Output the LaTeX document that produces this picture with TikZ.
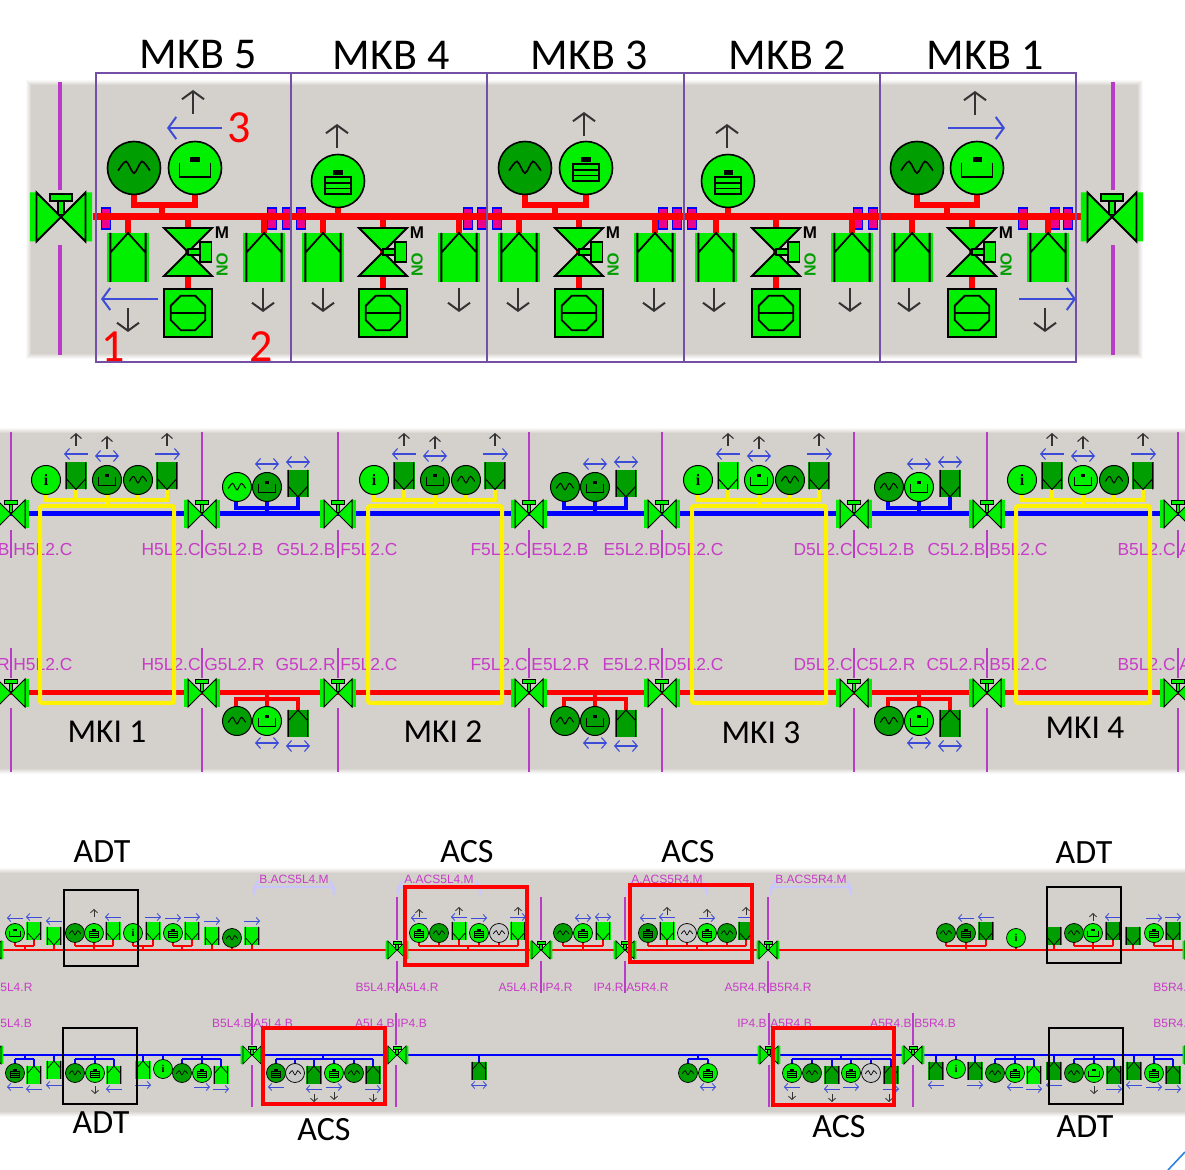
\documentclass[tikz,border=0pt]{standalone}
\usepackage{fontspec}
\setmainfont{Carlito}
\newfontfamily\tagfont{Liberation Sans}
\newfontfamily\infofont{Liberation Serif}
\usetikzlibrary{arrows.meta}

\definecolor{panel}{HTML}{D4D0CB}
\definecolor{lgreen}{HTML}{00F000}
\definecolor{dgreen}{HTML}{009E00}
\definecolor{sgrey}{HTML}{C8C8C8}
\definecolor{tagmag}{HTML}{C83CC8}
\definecolor{linemag}{HTML}{B83CC8}
\definecolor{arrblue}{HTML}{3C4CD8}
\definecolor{boxpurple}{HTML}{7350A5}
\definecolor{brack}{HTML}{C8C8FF}

\tikzset{
    sinec/.pic={
        \draw[fill=#1] (0,0) circle (1);
        \draw plot[smooth] coordinates {(-.6,.1) (-.3,-.25) (0,.2) (.3,-.25) (.6,.1)};
    },
    tankc/.pic={
        \draw[fill=#1] (0,0) circle (1);
        \draw (-.58,-.2) -- (-.58,.35) -- (.58,.35) -- (.58,-.2);
        \fill (-.17,-.4) rectangle (.17,-.22);
    },
    stackc/.pic={
        \draw[fill=#1] (0,0) circle (1);
        \draw (-.5,-.15) rectangle (.5,.5) (-.5,.07) -- (.5,.07) (-.5,.28) -- (.5,.28);
        \fill (-.17,-.4) rectangle (.17,-.22);
    },
    infoc/.pic={
        \draw[fill=lgreen] (0,0) circle (1);
        \node (-i) [transform shape, scale=.055, font=\infofont\bfseries] at (0,0) {i};
    },
    fan/.pic={
        \fill[#1] (-.85,-1) rectangle (.85,1);
        \draw (-.72,1) -- (-.72,-1) (.72,1) -- (.72,-1) (-.72,-.2) -- (0,-1) -- (.72,-.2);
    },
    isovalve/.pic={
        \fill[lgreen] (-1.27,-1) rectangle (-.98,1) (.98,-1) rectangle (1.27,1);
        \draw[fill=lgreen] (-1,-1) -- (0,0) -- (-1,1) -- cycle;
        \draw[fill=lgreen] (1,-1) -- (0,0) -- (1,1) -- cycle;
        \draw[fill=lgreen] (-.13,-.65) rectangle (.13,-.1);
        \draw[fill=lgreen] (-.45,-.95) rectangle (.45,-.65);
    },
    motvalve/.pic={
        \draw[fill=lgreen] (-1,-1) -- (1,-1) -- (-1,1) -- (1,1) -- cycle;
        \draw[fill=lgreen] (0,-.13) rectangle (.5,.13);
        \draw[fill=lgreen] (.5,-.42) rectangle (.98,.42);
    },
    sqpump/.pic={
        \draw[fill=lgreen] (-1,-1) rectangle (1,1);
        \draw (-.3,-.72) -- (.3,-.72) -- (.72,-.3) -- (.72,.3) -- (.3,.72) -- (-.3,.72) -- (-.72,.3) -- (-.72,-.3) -- cycle;
        \draw (-.72,0) -- (.72,0);
    },
    tierl/.style={line width=1pt, >={Straight Barb[length=4pt,width=11pt]}},
    tierm/.style={line width=.55pt, >={Straight Barb[length=2.4pt,width=5.5pt]}},
    tiers/.style={line width=.42pt, >={Straight Barb[length=1.6pt,width=3.5pt]}},
    blk/.style={draw=black!80},
    blu/.style={draw=arrblue},
    symbl/.style={scale=26.5, line width=.8pt},
    symbm/.style={scale=14.5, line width=.5pt},
    symbs/.style={scale=9.5, line width=.35pt},
    title/.style={font=\fontsize{22}{24}\selectfont},
    mkilabel/.style={font=\fontsize{16.7}{20}\selectfont},
    adtlabel/.style={font=\fontsize{17}{20}\selectfont},
    rednum/.style={font=\fontsize{23}{24}\selectfont, text=red},
    tagm/.style={font=\tagfont\fontsize{8.7}{10}\selectfont, text=tagmag, inner sep=0pt},
    tags/.style={font=\tagfont\fontsize{6}{7}\selectfont, text=tagmag, inner sep=0pt},
}

\newcommand{\softpanel}[4]{%
    \foreach \d/\m in {5/12,4/28,3/45,2/62,1/80} {
        \fill[panel!\m!white] (#1-\d,#2-\d) rectangle (#3+\d,#4+\d);
    }
    \fill[panel] (#1,#2) rectangle (#3,#4);}

\begin{document}
\begin{tikzpicture}[x=.5pt,y=-.5pt]
    \useasboundingbox (0,0) rectangle (1185,1170);

    % MKB row
    \softpanel{31}{85}{1138}{354}
    \foreach \px in {60,1113} {
        \draw[linemag,line width=1.6pt] (\px,82) -- (\px,190) (\px,245) -- (\px,355);
    }
    \foreach \px in {106,272,287,301,468,482,497,663,677,692,858,873,1023,1055,1068} {
        \draw[blue,fill=magenta,line width=.6pt] (\px-4.5,208) rectangle (\px+4.5,229);
    }
    \draw[red,line width=3.5pt] (93,217) -- (1082,217);
    \foreach \ux in {96,291,487,684,880} {
        \draw[red,line width=3.2pt] (\ux+32,217) -- (\ux+32,233) (\ux+168,217) -- (\ux+168,233) (\ux+92,217) -- (\ux+92,290);
        \pic[scale=24.5,line width=.9pt] at (\ux+32,257.5) {fan=lgreen};
        \pic[scale=24.5,line width=.9pt] at (\ux+168,257.5) {fan=lgreen};
        \pic[scale=24,line width=.9pt] at (\ux+92,252) {motvalve};
        \pic[scale=24,line width=.9pt] at (\ux+92,313) {sqpump};
        \node (m\ux) at (\ux+126,233) {\tagfont\bfseries\fontsize{8.5}{9}\selectfont M};
        \node (no\ux) [rotate=90,text=dgreen] at (\ux+126,265) {\tagfont\bfseries\fontsize{8}{9}\selectfont NO};
    }
    \pic[scale=24.5,line width=.9pt] at (61,217) {isovalve};
    \pic[scale=24.5,line width=.9pt] at (1112,217) {isovalve};

    \draw[red,line width=3pt] (134,195) -- (134,205) -- (195,205) -- (195,195) (162,205) -- (162,217);
    \draw[red,line width=3pt] (525,195) -- (525,205) -- (586,205) -- (586,195) (555,205) -- (555,217);
    \draw[red,line width=3pt] (917,195) -- (917,205) -- (977,205) -- (977,195) (947,205) -- (947,217);
    \draw[red,line width=3pt] (338,205) -- (338,217) (728,205) -- (728,217);
    \pic[symbl] at (134,168) {sinec=dgreen};
    \pic[symbl] at (195,168) {tankc=lgreen};
    \pic[symbl] at (338,181) {stackc=lgreen};
    \pic[symbl] at (525,168) {sinec=dgreen};
    \pic[symbl] at (586,168) {stackc=lgreen};
    \pic[symbl] at (728,181) {stackc=lgreen};
    \pic[symbl] at (917,168) {sinec=dgreen};
    \pic[symbl] at (977,168) {tankc=lgreen};

    \foreach \px/\py in {193/90,337/124,584/112,727/124,975/91} {
        \draw[tierl,blk,->] (\px,\py+24) -- (\px,\py);
    }
    \foreach \px/\py in {128/308,263/288,323/288,459/288,518/288,654/288,714/288,850/288,909/288,1045/308} {
        \draw[tierl,blk,->] (\px,\py) -- (\px,\py+24);
    }
    \draw[tierl,blu,->] (222,128) -- (167,128);
    \draw[tierl,blu,->] (948,128) -- (1005,128);
    \draw[tierl,blu,->] (158,299) -- (101,299);
    \draw[tierl,blu,->] (1019,299) -- (1076,299);

    \foreach \ux/\vx in {96/291,291/487,487/684,684/880,880/1076} {
        \draw[boxpurple,line width=.9pt] (\ux,73) rectangle (\vx,362);
    }
    \foreach \px/\num in {198/5,391/4,589/3,787/2,985/1} {
        \node[title] (mkb\num) at (\px,55) {MKB \num};
    }
    \node[rednum] (one) at (113,347) {1};
    \node[rednum] (two) at (261,347) {2};
    \node[rednum] (three) at (239,128) {3};

    % MKI row
    \softpanel{-6}{433}{1191}{769}
    \foreach \px in {11,202,338,529,662,854,987,1178} {
        \draw[linemag,line width=1pt] (\px,432) -- (\px,500) (\px,530) -- (\px,558) (\px,648) -- (\px,678) (\px,708) -- (\px,772);
    }
    \foreach \px/\txt [count=\i] in {10/B,201/H5L2.C,336/G5L2.B,528/F5L2.C,661/E5L2.B,853/D5L2.C,986/C5L2.B,1176/B5L2.C} {
        \node[tagm,anchor=east] (ub\i) at (\px,550) {\txt};
    }
    \foreach \px/\txt [count=\i] in {13/H5L2.C,204/G5L2.B,340/F5L2.C,531/E5L2.B,664/D5L2.C,856/C5L2.B,989/B5L2.C,1179/A} {
        \node[tagm,anchor=west] (ua\i) at (\px,550) {\txt};
    }
    \foreach \px/\txt [count=\i] in {10/R,201/H5L2.C,336/G5L2.R,528/F5L2.C,661/E5L2.R,853/D5L2.C,986/C5L2.R,1176/B5L2.C} {
        \node[tagm,anchor=east] (lb\i) at (\px,665) {\txt};
    }
    \foreach \px/\txt [count=\i] in {13/H5L2.C,204/G5L2.R,340/F5L2.C,531/E5L2.R,664/D5L2.C,856/C5L2.R,989/B5L2.C,1179/A} {
        \node[tagm,anchor=west] (la\i) at (\px,665) {\txt};
    }
    \draw[blue,line width=2.5pt] (0,514) -- (1185,514);
    \draw[red,line width=2.5pt] (0,693) -- (1185,693);

    \foreach \ox/\fa/\tk in {0/dgreen/dgreen,328/dgreen/dgreen,652/lgreen/lgreen,976/dgreen/lgreen} {
        \draw[yellow,line width=2pt,rounded corners=1pt] (\ox+40,506) rectangle (\ox+174,703);
        \draw[yellow,line width=2pt] (\ox+46,490) -- (\ox+46,500) -- (\ox+167,500) -- (\ox+167,490)
            (\ox+76,490) -- (\ox+76,500) (\ox+107,490) -- (\ox+107,506) (\ox+138,490) -- (\ox+138,500);
        \pic[symbm] at (\ox+46,480) {infoc};
        \pic[scale=13.5,line width=.5pt,yscale=-1] at (\ox+76,476) {fan=\fa};
        \pic[symbm] at (\ox+107,480) {tankc=\tk};
        \pic[symbm] at (\ox+138,480) {sinec=dgreen};
        \pic[scale=13.5,line width=.5pt,yscale=-1] at (\ox+167,476) {fan=dgreen};
        \foreach \px/\py in {76/433,107/436,167/433} {
            \draw[tierm,blk,->] (\ox+\px,\py+13) -- (\ox+\px,\py);
        }
        \draw[tierm,blu,->] (\ox+88,454) -- (\ox+64,454);
        \draw[tierm,blu,<->] (\ox+95,456) -- (\ox+119,456);
        \draw[tierm,blu,->] (\ox+155,454) -- (\ox+180,454);
    }
    \foreach \ox/\sa/\tk in {0/lgreen/dgreen,328/dgreen/dgreen,652/dgreen/lgreen} {
        \draw[blue,line width=2pt] (\ox+236,495) -- (\ox+236,508) -- (\ox+298,508) -- (\ox+298,495) (\ox+267,495) -- (\ox+267,514);
        \pic[symbm] at (\ox+237,487) {sinec=\sa};
        \pic[symbm] at (\ox+267,487) {tankc=\tk};
        \pic[scale=13.5,line width=.5pt,yscale=-1] at (\ox+298,483.5) {fan=dgreen};
        \draw[tierm,blu,<->] (\ox+255,464) -- (\ox+279,464);
        \draw[tierm,blu,<->] (\ox+286,462) -- (\ox+310,462);
    }
    \foreach \ox/\tk in {0/lgreen,328/dgreen,652/lgreen} {
        \draw[red,line width=2pt] (\ox+236,712) -- (\ox+236,699) -- (\ox+298,699) -- (\ox+298,712) (\ox+267,712) -- (\ox+267,693);
        \pic[symbm] at (\ox+237,721) {sinec=dgreen};
        \pic[symbm] at (\ox+267,721) {tankc=\tk};
        \pic[scale=13.5,line width=.5pt] at (\ox+298,723.5) {fan=dgreen};
        \draw[tierm,blu,<->] (\ox+255,743) -- (\ox+279,743);
        \draw[tierm,blu,<->] (\ox+286,746) -- (\ox+310,746);
    }
    \foreach \px in {11,202,338,529,662,854,987,1178} {
        \pic[scale=14,line width=.5pt] at (\px,514) {isovalve};
        \pic[scale=14,line width=.5pt] at (\px,693) {isovalve};
    }
    \foreach \px/\py/\num in {107/732/1,443/732/2,761/733/3,1085/728/4} {
        \node[mkilabel] (mki\num) at (\px,\py) {MKI \num};
    }

    % ADT / ACS row
    \softpanel{-6}{873}{1191}{1112}
    \foreach \px in {397,541,625,768} {
        \draw[linemag,line width=.7pt] (\px,897) -- (\px,940) (\px,961) -- (\px,993);
    }
    \foreach \px in {252,396,769,913} {
        \draw[linemag,line width=.7pt] (\px,1013) -- (\px,1045) (\px,1065) -- (\px,1107);
    }
    \foreach \px/\txt [count=\i] in {396/B5L4.R,539/A5L4.R,624/IP4.R,767/A5R4.R} {
        \node[tags,anchor=east] (rb\i) at (\px,987) {\txt};
    }
    \foreach \px/\txt [count=\i] in {0/5L4.R,398/A5L4.R,542/IP4.R,626/A5R4.R,769/B5R4.R,1153/B5R4.} {
        \node[tags,anchor=west] (ra\i) at (\px,987) {\txt};
    }
    \foreach \px/\txt [count=\i] in {252/B5L4.B,395/A5L4.B,767/IP4.B,912/A5R4.B} {
        \node[tags,anchor=east] (bb\i) at (\px,1023) {\txt};
    }
    \foreach \px/\txt [count=\i] in {0/5L4.B,253/A5L4.B,397/IP4.B,770/A5R4.B,914/B5R4.B,1153/B5R4.} {
        \node[tags,anchor=west] (ba\i) at (\px,1023) {\txt};
    }
    \foreach \xa/\xb/\txt [count=\i] in {253/335/B.ACS5L4.M,397/481/A.ACS5L4.M,626/708/A.ACS5R4.M,770/852/B.ACS5R4.M} {
        \draw[brack,line width=1.2pt] (\xa+1,895) -- (\xa+1,889) -- (\xa+5,887) -- (\xb-5,887) -- (\xb-1,889) -- (\xb-1,895) (\xa+1,889) -- (\xa+5,881) (\xb-1,889) -- (\xb-5,881);
        \node[tags] (acs\i) at ({(\xa+\xb)/2},879) {\txt};
    }

    \draw[red,line width=1.3pt] (0,950) -- (1185,950);
    \draw[blue,line width=1.3pt] (0,1055) -- (1185,1055);

    \foreach \xa/\xb/\xc in {15/34/25,75/113/94,133/153/143,173/192/182,419/518/468,563/603/583,648/746/697,946/986/966,1074/1113/1093,1154/1173/1173} {
        \draw[red,line width=.9pt] (\xa,946) -- (\xb,946) (\xc,946) -- (\xc,950);
    }
    \foreach \px in {15,34,75,94,113,133,153,173,192,419,439,459,479,499,518,563,583,603,648,667,687,707,727,746,946,966,986,1074,1093,1113,1154,1173} {
        \draw[red,line width=.9pt] (\px,930) -- (\px,946);
    }
    \foreach \px in {54,212,232,252,1016,1054,1133} {
        \draw[red,line width=.9pt] (\px,930) -- (\px,950);
    }
    \foreach \xa/\xb/\xc in {15/34/25,75/114/95,182/221/202,276/373/323,688/708/698,792/891/841,995/1034/1015,1074/1114/1094,1154/1173/1154} {
        \draw[blue,line width=.9pt] (\xa,1059) -- (\xb,1059) (\xc,1055) -- (\xc,1059);
    }
    \foreach \px in {15,34,75,95,114,182,202,221,276,295,314,334,354,373,688,708,792,812,832,851,871,891,995,1015,1034,1074,1094,1114,1154,1173} {
        \draw[blue,line width=.9pt] (\px,1059) -- (\px,1075);
    }
    \foreach \px in {54,143,163,479,936,956,975,1054,1134} {
        \draw[blue,line width=.9pt] (\px,1055) -- (\px,1075);
    }

    \foreach \px/\py/\col in {75/933/dgreen,232/938/dgreen,439/933/dgreen,499/933/sgrey,563/933/dgreen,687/933/sgrey,727/933/dgreen,946/933/dgreen,1074/933/dgreen,
            75/1073/dgreen,182/1073/dgreen,295/1073/sgrey,354/1073/dgreen,688/1073/dgreen,812/1073/dgreen,871/1073/sgrey,995/1073/dgreen,1074/1073/dgreen} {
        \pic[symbs] at (\px,\py) {sinec=\col};
    }
    \foreach \px/\py/\col in {94/933/lgreen,173/933/lgreen,419/933/lgreen,479/933/lgreen,583/933/lgreen,648/933/dgreen,707/933/lgreen,966/933/dgreen,1154/933/lgreen,
            15/1073/dgreen,95/1073/lgreen,202/1073/lgreen,276/1073/dgreen,334/1073/lgreen,708/1073/lgreen,792/1073/lgreen,851/1073/lgreen,1015/1073/lgreen,1154/1073/lgreen} {
        \pic[symbs] at (\px,\py) {stackc=\col};
    }
    \foreach \px/\py in {15/933,1093/933,1094/1073} {
        \pic[symbs] at (\px,\py) {tankc=lgreen};
    }
    \foreach \px/\py in {133/933,1016/938,163/1069,956/1069} {
        \pic[symbs] at (\px,\py) {infoc};
    }
    \foreach \px/\py/\col in {34/931/lgreen,54/936/lgreen,113/931/lgreen,153/931/lgreen,192/931/lgreen,212/936/lgreen,252/936/lgreen,459/931/lgreen,518/931/lgreen,603/931/lgreen,667/931/lgreen,746/931/dgreen,986/931/dgreen,1054/936/dgreen,1113/931/dgreen,1133/936/dgreen,1173/931/dgreen} {
        \pic[scale=9,line width=.35pt,yscale=-1] at (\px,\py) {fan=\col};
    }
    \foreach \px/\py/\col in {34/1075/lgreen,54/1070/lgreen,114/1075/lgreen,143/1070/lgreen,221/1075/lgreen,314/1075/dgreen,373/1075/dgreen,479/1071/dgreen,832/1075/dgreen,891/1075/dgreen,936/1071/dgreen,975/1071/dgreen,1034/1075/lgreen,1054/1071/dgreen,1114/1075/dgreen,1134/1071/dgreen,1173/1075/dgreen} {
        \pic[scale=9,line width=.35pt] at (\px,\py) {fan=\col};
    }
    \foreach \px in {-8,397,541,625,768,1194} {
        \pic[scale=9,line width=.35pt] at (\px,950) {isovalve};
    }
    \foreach \px in {-8,252,397,769,913,1194} {
        \pic[scale=9,line width=.35pt] at (\px,1055) {isovalve};
    }

    \foreach \px/\py in {15/918,34/917,54/921,113/917,419/918,459/917,648/918,667/917,966/918,986/917,1113/917,
            15/1087,34/1089,54/1085,114/1089,276/1087,314/1089,792/1087,832/1089,936/1085,1015/1087,1054/1085,1134/1085} {
        \draw[tiers,blu,->] (\px+8,\py) -- (\px-8,\py);
    }
    \foreach \px/\py in {153/917,173/918,192/917,212/921,252/921,479/918,518/917,707/918,746/917,1154/918,1173/917,
            143/1085,202/1087,221/1089,334/1087,373/1089,851/1087,891/1089,975/1085,1034/1089,1114/1089,1154/1087,1173/1089} {
        \draw[tiers,blu,->] (\px-8,\py) -- (\px+8,\py);
    }
    \foreach \px/\py in {583/918,603/917,479/1085,708/1087} {
        \draw[tiers,blu,<->] (\px-8,\py) -- (\px+8,\py);
    }
    \foreach \px/\py in {94/917,419/917,459/915,518/915,667/915,707/917,746/915,1093/921} {
        \draw[tiers,blk,->] (\px,\py) -- (\px,\py-8);
    }
    \foreach \px/\py in {95/1086,314/1094,334/1092,373/1094,792/1092,832/1094,889/1094,1094/1086} {
        \draw[tiers,blk,->] (\px,\py) -- (\px,\py+8);
    }

    \foreach \xa/\ya/\xb/\yb in {405/887/527/965,630/885/752/962,263/1028/385/1104,773/1028/894/1105} {
        \draw[red,line width=1.7pt] (\xa,\ya) rectangle (\xb,\yb);
    }
    \foreach \xa/\ya/\xb/\yb in {64/890/138/966,63/1028/137/1104,1047/887/1121/963,1049/1028/1123/1104} {
        \draw[black,line width=.6pt] (\xa,\ya) rectangle (\xb,\yb);
    }
    \foreach \px/\py/\txt [count=\i] in {102/852/ADT,467/852/ACS,688/852/ACS,1084/853/ADT,101/1123/ADT,324/1130/ACS,839/1127/ACS,1085/1127/ADT} {
        \node[adtlabel] (name\i) at (\px,\py) {\txt};
    }
    \draw[arrblue!70!cyan,line width=.8pt] (1168,1170) -- (1185,1152);
\end{tikzpicture}
\end{document}
